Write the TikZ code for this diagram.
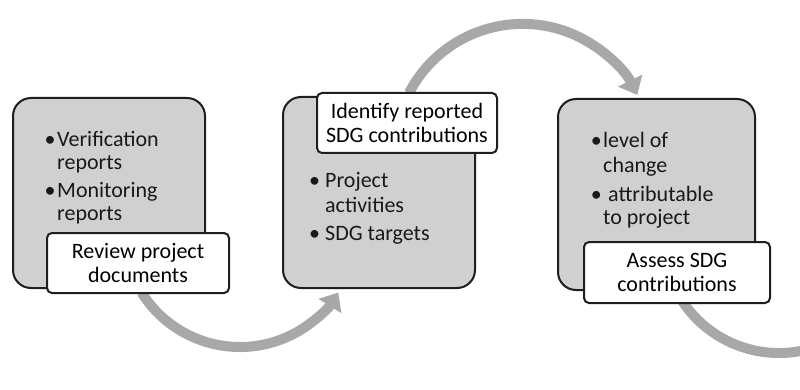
\documentclass[tikz,border=0pt]{standalone}
\usepackage{fontspec}
\setmainfont{Carlito}
\usetikzlibrary{arrows.meta}
\definecolor{boxgray}{HTML}{D0D0D0}
\definecolor{arcgray}{HTML}{A8A8A8}
\definecolor{edge}{HTML}{1E1E1E}
\tikzset{
  graybox/.style={draw=edge, line width=2pt, fill=boxgray, rounded corners=18pt, inner sep=0pt},
  labelbox/.style={draw=edge, line width=2pt, fill=white, rounded corners=5pt, inner sep=0pt, align=center,
    font=\fontsize{22pt}{24pt}\selectfont},
  txt/.style={anchor=base west, inner sep=0pt, font=\fontsize{22pt}{24pt}\selectfont, text=black!90},
  flow/.style={draw=arcgray, line width=10pt, -{Triangle[width=26pt,length=16pt]}},
  flowplain/.style={draw=arcgray, line width=10pt}
}
\begin{document}
\begin{tikzpicture}[x=1pt,y=-1pt]
\clip (0,0) rectangle (800,390);
\fill[white] (0,0) rectangle (800,390);

% arcs (behind boxes)
\coordinate (s1) at (141.6,292.5);
\coordinate (s2) at (409,93);
\coordinate (s3) at (680.6,298.5);
\draw[flow] (s1) arc[start angle=148, end angle=32, radius=116];
\draw[flow] (s2) arc[start angle=207.4, end angle=333.6, radius=128];
\draw[flowplain] (s3) arc[start angle=148, end angle=40, radius=116];

% gray boxes
\node[graybox, minimum width=192pt, minimum height=190pt] (b1) at (109,193) {};
\node[graybox, minimum width=192pt, minimum height=191pt] (b2) at (379,192.5) {};
\node[graybox, minimum width=197pt, minimum height=191pt] (b3) at (656.5,194.5) {};

% label boxes
\node[labelbox, minimum width=182pt, minimum height=60pt] (l1) at (138,263) {Review project\\documents};
\node[labelbox, minimum width=180pt, minimum height=60pt] (l2) at (407,123) {Identify reported\\SDG contributions};
\node[labelbox, minimum width=186pt, minimum height=61pt] (l3) at (677,272.5) {Assess SDG\\contributions};

% box 1 text
\node[txt] (t11) at (57,147) {\llap{•\hspace{1.5pt}}Verification};
\node[txt] (t12) at (57,170) {reports};
\node[txt] (t13) at (57,197) {\llap{•\hspace{1.5pt}}Monitoring};
\node[txt] (t14) at (57,221) {reports};

% box 2 text
\node[txt] (t21) at (325,188) {\llap{•\hspace{5pt}}Project};
\node[txt] (t22) at (325,212) {activities};
\node[txt] (t23) at (325,240) {\llap{•\hspace{5pt}}SDG targets};

% box 3 text
\node[txt] (t31) at (603,148) {\llap{•\hspace{1.5pt}}level of};
\node[txt] (t32) at (603,173) {change};
\node[txt] (t33) at (603,202) {\llap{•\hspace{1.5pt}} attributable};
\node[txt] (t34) at (603,225) {to project};
\end{tikzpicture}
\end{document}
